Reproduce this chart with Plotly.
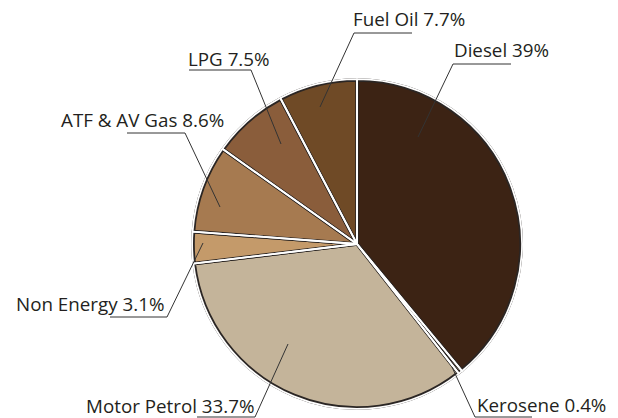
import plotly.graph_objects as go

# ---- data ----
labels = ["Diesel", "Kerosene", "Motor Petrol", "Non Energy", "ATF & AV Gas", "LPG", "Fuel Oil"]
values = [39.0, 0.4, 33.7, 3.1, 8.6, 7.5, 7.7]
colors = ["#3c2314", "#b9a98f", "#c4b49a", "#c49a6a", "#a67a50", "#8a5d3b", "#6f4a26"]

# ---- layout (pixel geometry, in window pixels) ----
W, H = 618, 418
CX, CY, R = 357, 244, 164

# per-label placement: text left x, text baseline y, leader inner point, elbow, underline end
label_layout = [
    dict(tx=454, ty=57, inner=(418, 137), elbow=(453, 64), end=(511, 64)),   # Diesel
    dict(tx=477, ty=412, inner=(452, 367), elbow=(475, 417), end=(532, 417)),  # Kerosene
    dict(tx=86, ty=413, inner=(288, 344), elbow=(255, 417), end=(197, 417)),  # Motor Petrol
    dict(tx=16, ty=311, inner=(203, 243), elbow=(167, 317), end=(110, 317)),  # Non Energy
    dict(tx=61, ty=127, inner=(220, 207), elbow=(185, 133), end=(127, 133)),  # ATF & AV Gas
    dict(tx=189, ty=66, inner=(281, 144), elbow=(251, 70), end=(189, 70)),    # LPG
    dict(tx=353, ty=26, inner=(320, 107), elbow=(354, 33), end=(412, 33)),    # Fuel Oil
]

FONT = "Open Sans"
FS = 18.8


def px(x):
    return x / W


def py(y):
    return 1 - y / H


def dom(r):
    return dict(x=[px(CX - r), px(CX + r)], y=[py(CY + r), py(CY - r)])


fig = go.Figure()
# filled slices with dark outline
fig.add_trace(go.Pie(
    labels=labels, values=values, sort=False, direction="clockwise", rotation=0,
    marker=dict(colors=colors, line=dict(color="#2b2624", width=3.6)),
    textinfo="none", hoverinfo="label+percent", domain=dom(R), showlegend=False,
))
# white separators between slices
fig.add_trace(go.Pie(
    labels=labels, values=values, sort=False, direction="clockwise", rotation=0,
    marker=dict(colors=["rgba(0,0,0,0)"] * len(values), line=dict(color="white", width=1.8)),
    textinfo="none", hoverinfo="skip", domain=dom(R + 0.9), showlegend=False,
))

annotations = []
shapes = []
for lab, val, lay in zip(labels, values, label_layout):
    annotations.append(dict(
        text=f"{lab} {val:g}%", x=px(lay["tx"] - 1.5), y=py(lay["ty"] - 7),
        xref="paper", yref="paper", xanchor="left", yanchor="middle",
        showarrow=False, borderpad=0,
        font=dict(family=FONT, size=FS, color="#231f20"),
    ))
    (x0, y0), (x1, y1), (x2, y2) = lay["inner"], lay["elbow"], lay["end"]
    shapes.append(dict(
        type="path", xref="paper", yref="paper",
        path=f"M {px(x0)},{py(y0)} L {px(x1)},{py(y1)} L {px(x2)},{py(y2)}",
        line=dict(color="#333333", width=1),
    ))

fig.update_layout(
    width=W, height=H,
    margin=dict(l=0, r=0, t=0, b=0),
    paper_bgcolor="white", plot_bgcolor="white",
    showlegend=False,
    annotations=annotations, shapes=shapes,
)

fig.write_html(
    "out.html",
    config={"displayModeBar": False},
    post_script="document.body.style.margin='0';",
)
